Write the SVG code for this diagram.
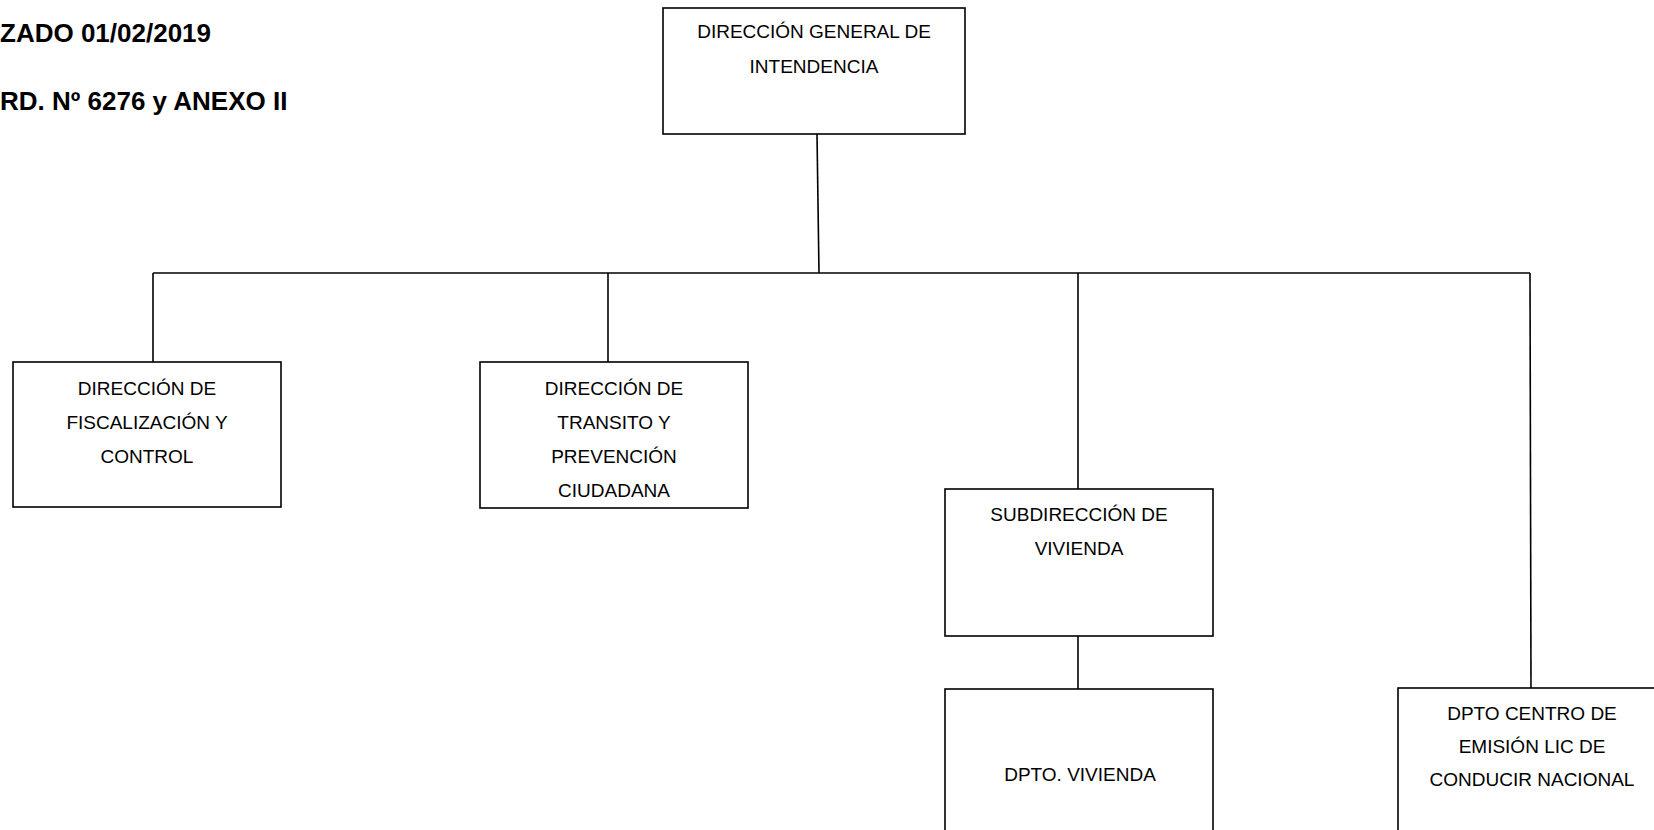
<svg xmlns="http://www.w3.org/2000/svg" width="1654" height="830" viewBox="0 0 1654 830">
<style>
.box{fill:#fff;stroke:#000;stroke-width:1.6}
.t{font-family:"Liberation Sans",Arial,sans-serif;font-size:19px;fill:#000;text-anchor:middle}
.h{font-family:"Liberation Sans",Arial,sans-serif;font-size:26px;font-weight:bold;fill:#000}
.c{stroke:#000;stroke-width:1.6;fill:none}
</style>
<rect width="1654" height="830" fill="#fff"/>
<text class="h" x="0" y="42">ZADO 01/02/2019</text>
<text class="h" x="0" y="110">RD. Nº 6276 y ANEXO II</text>
<g id="connectors">
<line class="c" x1="817" y1="134" x2="819" y2="273"/>
<line class="c" x1="153" y1="273" x2="1530" y2="273"/>
<line class="c" x1="153" y1="273" x2="153" y2="362"/>
<line class="c" x1="608" y1="273" x2="608" y2="362"/>
<line class="c" x1="1078" y1="273" x2="1078" y2="489"/>
<line class="c" x1="1530" y1="273" x2="1531" y2="688"/>
<line class="c" x1="1078" y1="636" x2="1078" y2="689"/>
</g>
<g id="n-dgi">
<rect class="box" x="663" y="8" width="302" height="126"/>
<text class="t" x="814" y="38">DIRECCIÓN GENERAL DE</text>
<text class="t" x="814" y="73">INTENDENCIA</text>
</g>
<g id="n-fisc">
<rect class="box" x="13" y="362" width="268" height="145"/>
<text class="t" x="147" y="395">DIRECCIÓN DE</text>
<text class="t" x="147" y="429">FISCALIZACIÓN Y</text>
<text class="t" x="147" y="463">CONTROL</text>
</g>
<g id="n-trans">
<rect class="box" x="480" y="362" width="268" height="146"/>
<text class="t" x="614" y="395">DIRECCIÓN DE</text>
<text class="t" x="614" y="429">TRANSITO Y</text>
<text class="t" x="614" y="463">PREVENCIÓN</text>
<text class="t" x="614" y="497">CIUDADANA</text>
</g>
<g id="n-subviv">
<rect class="box" x="945" y="489" width="268" height="147"/>
<text class="t" x="1079" y="521">SUBDIRECCIÓN DE</text>
<text class="t" x="1079" y="555">VIVIENDA</text>
</g>
<g id="n-dptoviv">
<rect class="box" x="945" y="689" width="268" height="160"/>
<text class="t" x="1080" y="781">DPTO. VIVIENDA</text>
</g>
<g id="n-centro">
<rect class="box" x="1398" y="688" width="300" height="160"/>
<text class="t" x="1532" y="720">DPTO CENTRO DE</text>
<text class="t" x="1532" y="753">EMISIÓN LIC DE</text>
<text class="t" x="1532" y="786">CONDUCIR NACIONAL</text>
</g>
</svg>
